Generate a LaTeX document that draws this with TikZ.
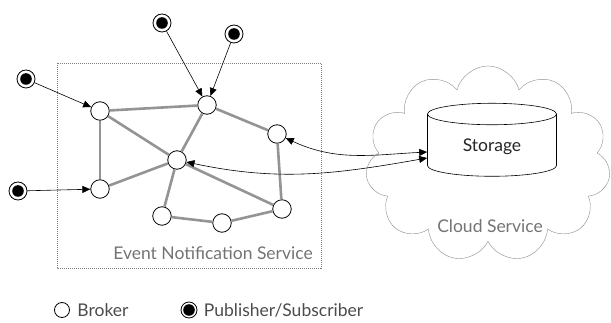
\documentclass[tikz,border=0pt]{standalone}
\usepackage{fontspec}
\setmainfont{Lato}
\usetikzlibrary{arrows.meta,shapes.geometric,shapes.symbols}
\tikzset{
  broker/.style={circle,draw,fill=white,line width=0.8pt,minimum size=18.5pt,inner sep=0pt},
  pubsub/.style={circle,draw,fill=white,line width=0.8pt,minimum size=18pt,inner sep=0pt,
    path picture={\fill[black] (path picture bounding box.center) circle (5.8pt);}},
  link/.style={draw=black!42,line width=2.6pt},
  arr/.style={-{Triangle[length=8pt,width=7pt]},semithick},
  twoarr/.style={{Triangle[length=8pt,width=7pt]}-{Triangle[length=8pt,width=7pt]},semithick},
  lbl/.style={font=\fontsize{17.5}{20}\selectfont},
}
\begin{document}
\begin{tikzpicture}[x=1pt,y=-1pt]
\useasboundingbox (0,0) rectangle (611,323);
% service area and cloud
\draw [black!50, dash pattern=on 1pt off 1pt, very thin] (57,63) rectangle (321,268);
\node at (213,253) [lbl, text=black!55] {Event Notification Service};
\node (cl) at (488,164) [cloud, cloud puffs=11, cloud ignores aspect, draw=black!45, minimum width=245pt, minimum height=196pt] {};
\node at (490,226) [lbl, text=black!55] {Cloud Service};
\node (st) at (492,147) [cylinder, shape border rotate=90, aspect=0.33, draw, semithick, fill=white, minimum width=129pt, minimum height=73pt, lbl, text=black!85] {Storage};
% brokers
\node (b1) at (100,111) [broker] {};
\node (b2) at (100,189) [broker] {};
\node (b3) at (207,105) [broker] {};
\node (b4) at (177,160) [broker] {};
\node (b5) at (277,134) [broker] {};
\node (b6) at (282,209) [broker] {};
\node (b7) at (162,216) [broker] {};
\node (b8) at (222,223) [broker] {};
\foreach \a/\b in {b1/b3,b1/b2,b1/b4,b2/b4,b3/b4,b3/b5,b5/b6,b4/b6,b4/b7,b7/b8,b8/b6}
  \path [link] (\a) -- (\b);
% publishers / subscribers
\node (p1) at (26,79) [pubsub] {};
\node (p2) at (18,191) [pubsub] {};
\node (p3) at (162,23) [pubsub] {};
\node (p4) at (234,34) [pubsub] {};
\draw [arr] (p1) -- (b1);
\draw [arr] (p2) -- (b2);
\draw [arr] (p3) -- (b3);
\draw [arr] (p4) -- (b3);
\draw [twoarr] (b5) to[out=-25,in=183] ([yshift=-5pt]st.west);
\draw [twoarr] (b4) to[out=-12,in=190] ([yshift=-11pt]st.west);
% legend
\node (lb) at (62,310) [broker, minimum size=15pt] {};
\node at ([xshift=4pt]lb.east) [anchor=west, lbl, text=black!70] {Broker};
\node (lp) at (189,310) [pubsub, minimum size=16pt] {};
\node at ([xshift=3pt]lp.east) [anchor=west, lbl, text=black!70] {Publisher/Subscriber};
\end{tikzpicture}
\end{document}
